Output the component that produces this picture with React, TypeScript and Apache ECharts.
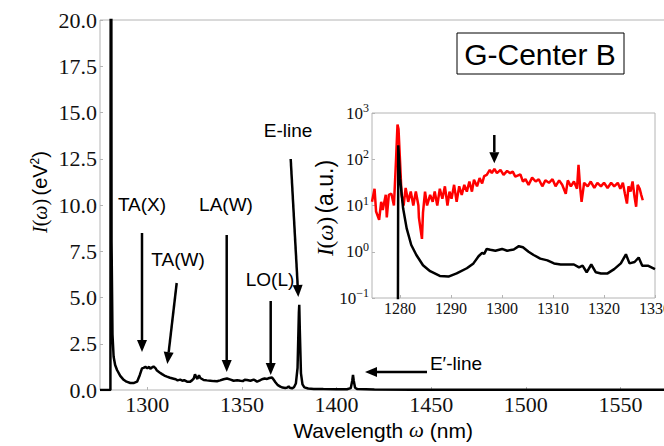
import React, { useEffect, useRef } from "react";
import * as echarts from "echarts";

// ---------- data ----------
const mainWavelength = [
  1275, 1280.5, 1280.8, 1281.1, 1281.6, 1282.2, 1283, 1284, 1285.7, 1287.5, 1289, 1291, 1293, 1294.6, 1296,
  1297.2, 1298, 1299, 1300, 1301, 1301.6, 1302.5, 1303.3, 1304.3, 1305.1, 1306.5, 1307.8, 1309, 1310.4, 1312,
  1313.9, 1315, 1316, 1317.4, 1318.5, 1319.5, 1321, 1322.5, 1323.6, 1324.5, 1325.2, 1325.8, 1326.5, 1327.3, 1328,
  1329.8, 1331.5, 1333.3, 1335, 1336.8, 1338.5, 1340.3, 1342.1, 1344, 1345.6, 1347.5, 1349.2, 1350.5, 1351.5,
  1352.7, 1354.5, 1356.2, 1357, 1358, 1359.5, 1360.6, 1362, 1363.3, 1364.5, 1365.9, 1366.8, 1367.7, 1369, 1370.3,
  1371.5, 1372.9, 1374, 1374.7, 1375.3, 1376.5, 1377.5, 1378.5, 1379.4, 1380.1, 1380.3, 1380.6, 1381.2, 1382,
  1383, 1385, 1388, 1393, 1400, 1405.5, 1407.5, 1408.3, 1408.7, 1409.1, 1409.8, 1411, 1420, 1440, 1480, 1520,
  1560, 1600,
];
const mainIntensity = [
  0, 0, 45, 8, 3, 1.8, 1.35, 1.08, 0.76, 0.55, 0.45, 0.38, 0.38, 0.45, 0.8,
  1.17, 1.2, 1.25, 1.18, 1.25, 1.15, 1.22, 1.27, 1.18, 1.05, 0.95, 0.86, 0.78, 0.72, 0.66,
  0.61, 0.58, 0.52, 0.56, 0.5, 0.53, 0.45, 0.44, 0.52, 0.62, 0.85, 0.7, 0.6, 0.8, 0.65,
  0.54, 0.52, 0.5, 0.48, 0.47, 0.52, 0.58, 0.62, 0.56, 0.5, 0.53, 0.5, 0.48, 0.55,
  0.54, 0.5, 0.56, 0.52, 0.45, 0.52, 0.58, 0.62, 0.6, 0.65, 0.68, 0.55, 0.42, 0.26, 0.18,
  0.13, 0.11, 0.13, 0.2, 0.12, 0.09, 0.15, 0.35, 1.2, 4.2, 4.6, 3.2, 0.9, 0.3,
  0.14, 0.08, 0.06, 0.05, 0.04, 0.04, 0.1, 0.5, 0.81, 0.5, 0.12, 0.05, 0.03, 0.02, 0.02, 0.02,
  0.02, 0.02,
];

const redWavelength = [
  1274.5, 1275.0, 1275.3, 1275.9, 1276.3, 1276.6, 1277.2, 1277.4, 1277.8, 1278.3, 1278.8, 1279.2, 1279.5, 1279.7,
  1280.0, 1280.3, 1280.7, 1281.1, 1281.6, 1282.1, 1282.6, 1283.1, 1283.6, 1283.7, 1284.0, 1284.3, 1284.5, 1284.9,
  1285.3, 1285.9, 1286.4, 1286.8, 1287.3, 1287.8, 1288.3, 1288.8, 1289.3, 1289.7, 1290.1, 1290.6, 1291.1, 1291.6,
  1292.1, 1292.6, 1293.1, 1293.6, 1294.1, 1294.5, 1295.1, 1295.6, 1296.1, 1296.5, 1297.0, 1297.6, 1298.0, 1298.5,
  1299.0, 1299.7, 1300.3, 1301.0, 1301.6, 1302.1, 1302.6, 1303.6, 1304.1, 1304.6, 1305.2, 1305.9, 1306.6, 1307.2,
  1307.9, 1308.5, 1309.2, 1309.9, 1310.5, 1311.2, 1311.8, 1312.5, 1312.9, 1313.5, 1314.1, 1314.7, 1315.0, 1315.3,
  1315.6, 1316.1, 1316.8, 1317.4, 1318.1, 1318.7, 1319.4, 1320.0, 1320.7, 1321.4, 1322.0, 1322.7, 1323.2, 1323.7,
  1324.1, 1324.5, 1324.8, 1325.2, 1325.6, 1326.0, 1326.3, 1326.6, 1327.0, 1327.3, 1327.6,
];
const redIntensity = [
  12, 23, 7.4, 4.9, 12, 8, 17, 5.5, 17, 18, 10, 90, 560, 450,
  90, 17, 10, 24, 12, 20, 10, 20, 10, 5.5, 3.2, 1.9, 7, 20,
  10, 17, 12, 20, 10, 23, 14, 26, 10, 20, 14, 28, 12, 26,
  17, 28, 20, 33, 20, 36, 26, 39, 30, 43, 46, 59, 50, 62,
  50, 59, 46, 56, 50, 54, 42, 47, 33, 37, 28, 40, 33, 37,
  26, 35, 31, 37, 26, 35, 28, 18, 35, 26, 33, 23, 76, 26,
  12, 31, 26, 33, 24, 31, 26, 31, 24, 31, 26, 31, 23, 31,
  18, 11, 26, 20, 33, 15, 9.4, 28, 23, 17, 13,
];

const blackWavelength = [
  1274.5, 1279.55, 1279.65, 1280.0, 1280.6, 1281.3, 1282.2, 1283.2, 1284.5, 1285.9, 1287.8, 1289.5, 1291.1,
  1293.1, 1294.4, 1295.4, 1296.1, 1296.5, 1297.0, 1297.7, 1298.7, 1300.0, 1301.0, 1302.3, 1303.3, 1304.1,
  1305.2, 1306.2, 1307.5, 1308.9, 1310.2, 1311.5, 1314.1, 1315.1, 1315.8, 1316.6, 1317.5, 1318.4, 1319.4,
  1320.7, 1322.0, 1323.3, 1324.3, 1325.0, 1326.0, 1326.8, 1327.5, 1328.6, 1330.0,
];
const blackIntensity = [
  0.001, 0.001, 200, 39, 8.7, 3.2, 1.4, 0.85, 0.51, 0.38, 0.3, 0.29, 0.34,
  0.44, 0.56, 0.8, 0.95, 0.9, 1.15, 1.1, 1.05, 1.15, 1.05, 1.12, 1.32, 1.25,
  1.0, 0.85, 0.71, 0.65, 0.56, 0.53, 0.53, 0.46, 0.5, 0.36, 0.53, 0.36, 0.34,
  0.34, 0.42, 0.56, 0.88, 0.56, 0.6, 0.75, 0.5, 0.5, 0.42,
];

const mainXTicks = [1300, 1350, 1400, 1450, 1500, 1550];
const insetXTicks = [1280, 1290, 1300, 1310, 1320, 1330];

const zip = (xs: number[], ys: number[]) => xs.map((x, i) => [x, ys[i]]);

const SERIF = "Liberation Serif";
const SANS = "Liberation Sans";

function arrow(x1: number, y1: number, x2: number, y2: number, hl = 12, hw = 5) {
  const ang = Math.atan2(y2 - y1, x2 - x1);
  const bx = x2 - hl * Math.cos(ang);
  const by = y2 - hl * Math.sin(ang);
  const px = -Math.sin(ang) * hw;
  const py = Math.cos(ang) * hw;
  return [
    { type: "line", z: 100, shape: { x1, y1, x2: bx, y2: by }, style: { stroke: "#000", lineWidth: 2.5 } },
    {
      type: "polygon",
      z: 100,
      shape: { points: [[x2, y2], [bx + px, by + py], [bx - px, by - py]] },
      style: { fill: "#000" },
    },
  ];
}

function label(text: string, x: number, y: number, size = 19) {
  return {
    type: "text",
    z: 100,
    x,
    y,
    style: { text, fontFamily: SANS, fontSize: size, fill: "#000", align: "center", verticalAlign: "middle" },
  };
}

const mathRich = (size: number) => ({
  mi: { fontFamily: SERIF, fontStyle: "italic", fontSize: size, fill: "#000", color: "#000" },
  mr: { fontFamily: SERIF, fontSize: size, fill: "#000", color: "#000" },
  t: { fontFamily: SANS, fontSize: size, fill: "#000", color: "#000" },
  s: { fontFamily: SANS, fontSize: Math.round(size * 0.62), padding: [0, 0, Math.round(size * 0.55), 0], fill: "#000", color: "#000" },
});

export default function App() {
  const ref = useRef<HTMLDivElement>(null);
  useEffect(() => {
    if (!ref.current) return;
    const chart = echarts.init(ref.current, undefined, { renderer: "svg" });
    const option: any = {
      animation: false,
      backgroundColor: "#fff",
      grid: [
        { left: 100, top: 20, right: 5, bottom: 56, show: true, borderColor: "#b4b4b4", borderWidth: 1 },
        {
          left: 372,
          top: 113,
          width: 283,
          height: 185,
          show: true,
          borderColor: "#b4b4b4",
          borderWidth: 1,
          backgroundColor: "#fff",
        },
      ],
      xAxis: [
        {
          type: "value",
          gridIndex: 0,
          min: 1275,
          max: 1600,
          axisLine: { show: false },
          splitLine: { show: false },
          axisTick: { show: true, inside: true, length: 3, lineStyle: { color: "#b4b4b4" }, customValues: mainXTicks },
          axisLabel: {
            customValues: mainXTicks,
            margin: 3,
            fontFamily: SERIF,
            fontSize: 22,
            color: "#111",
            formatter: (v: number) => String(v),
          },
        },
        {
          type: "value",
          gridIndex: 1,
          min: 1274.5,
          max: 1330,
          axisLine: { show: false },
          splitLine: { show: false },
          axisTick: { show: true, inside: true, length: 3, lineStyle: { color: "#b4b4b4" }, customValues: insetXTicks },
          axisLabel: {
            customValues: insetXTicks,
            margin: 2,
            fontFamily: SERIF,
            fontSize: 16,
            color: "#111",
            formatter: (v: number) => String(v),
          },
        },
      ],
      yAxis: [
        {
          type: "value",
          gridIndex: 0,
          min: 0,
          max: 20,
          interval: 2.5,
          axisLine: { show: false },
          splitLine: { show: false },
          axisTick: { show: true, inside: true, length: 3, lineStyle: { color: "#b4b4b4" } },
          axisLabel: {
            margin: 3,
            fontFamily: SERIF,
            fontSize: 22,
            color: "#111",
            formatter: (v: number) => v.toFixed(1),
          },
        },
        {
          type: "log",
          logBase: 10,
          gridIndex: 1,
          min: 0.1,
          max: 1000,
          axisLine: { show: false },
          splitLine: { show: false },
          axisTick: { show: true, inside: true, length: 3, lineStyle: { color: "#b4b4b4" } },
          axisLabel: {
            margin: 3,
            formatter: (v: number) => {
              const e = Math.round(Math.log10(v));
              return `{b|10}{s|${e < 0 ? "\u2212" + -e : e}}`;
            },
            rich: {
              b: { fontFamily: SERIF, fontSize: 17, color: "#111" },
              s: { fontFamily: SERIF, fontSize: 12, color: "#111", padding: [0, 0, 10, 0] },
            },
          },
        },
      ],
      series: [
        {
          type: "line",
          xAxisIndex: 0,
          yAxisIndex: 0,
          data: zip(mainWavelength, mainIntensity),
          showSymbol: false,
          lineStyle: { color: "#000", width: 2.5 },
          itemStyle: { color: "#000" },
          clip: true,
        },
        {
          type: "line",
          xAxisIndex: 1,
          yAxisIndex: 1,
          data: zip(redWavelength, redIntensity),
          showSymbol: false,
          lineStyle: { color: "#ff0000", width: 2.5 },
          itemStyle: { color: "#ff0000" },
          clip: true,
        },
        {
          type: "line",
          xAxisIndex: 1,
          yAxisIndex: 1,
          data: zip(blackWavelength, blackIntensity),
          showSymbol: false,
          lineStyle: { color: "#000", width: 2.5 },
          itemStyle: { color: "#000" },
          clip: true,
        },
      ],
      graphic: [
        {
          type: "rect",
          z: 100,
          shape: { x: 457, y: 33, width: 167, height: 41 },
          style: { fill: "#fff", stroke: "#000", lineWidth: 1 },
        },
        label("G-Center B", 540, 54, 30),
        label("TA(X)", 142, 204),
        label("LA(W)", 226, 204),
        label("TA(W)", 178, 259),
        label("LO(L)", 270, 279),
        label("E-line", 288, 130),
        label("E\u2032-line", 456, 363),
        ...arrow(142, 233, 142, 352),
        ...arrow(176.7, 283, 167.3, 364),
        ...arrow(226.7, 235, 226.7, 372),
        ...arrow(270.7, 301, 270.7, 375),
        ...arrow(290.7, 159, 298.3, 297),
        ...arrow(427, 372, 365, 372),
        ...arrow(494.3, 135, 494.3, 163.3, 11, 5),
        {
          type: "text",
          z: 100,
          x: 40,
          y: 192,
          rotation: Math.PI / 2,
          style: {
            text: "{mi|I}{mr|(}{mi|ω}{mr|)} {t|(eV}{s|2}{t|)}",
            rich: mathRich(20),
            align: "center",
            verticalAlign: "middle",
          },
        },
        {
          type: "text",
          z: 100,
          x: 325,
          y: 208,
          rotation: Math.PI / 2,
          style: {
            text: "{mi|I}{mr|(}{mi|ω}{mr|)} {t|(a.u.)}",
            rich: mathRich(23),
            align: "center",
            verticalAlign: "middle",
          },
        },
        {
          type: "text",
          z: 100,
          x: 383,
          y: 430,
          style: {
            text: "{t|Wavelength }{mi|ω}{t| (nm)}",
            rich: mathRich(21),
            align: "center",
            verticalAlign: "middle",
          },
        },
      ],
    };
    chart.setOption(option);
    return () => chart.dispose();
  }, []);
  return (
    <div
      ref={ref}
      style={{ position: "fixed", left: 0, top: 0, width: 720, height: 446, background: "#fff" }}
    />
  );
}
